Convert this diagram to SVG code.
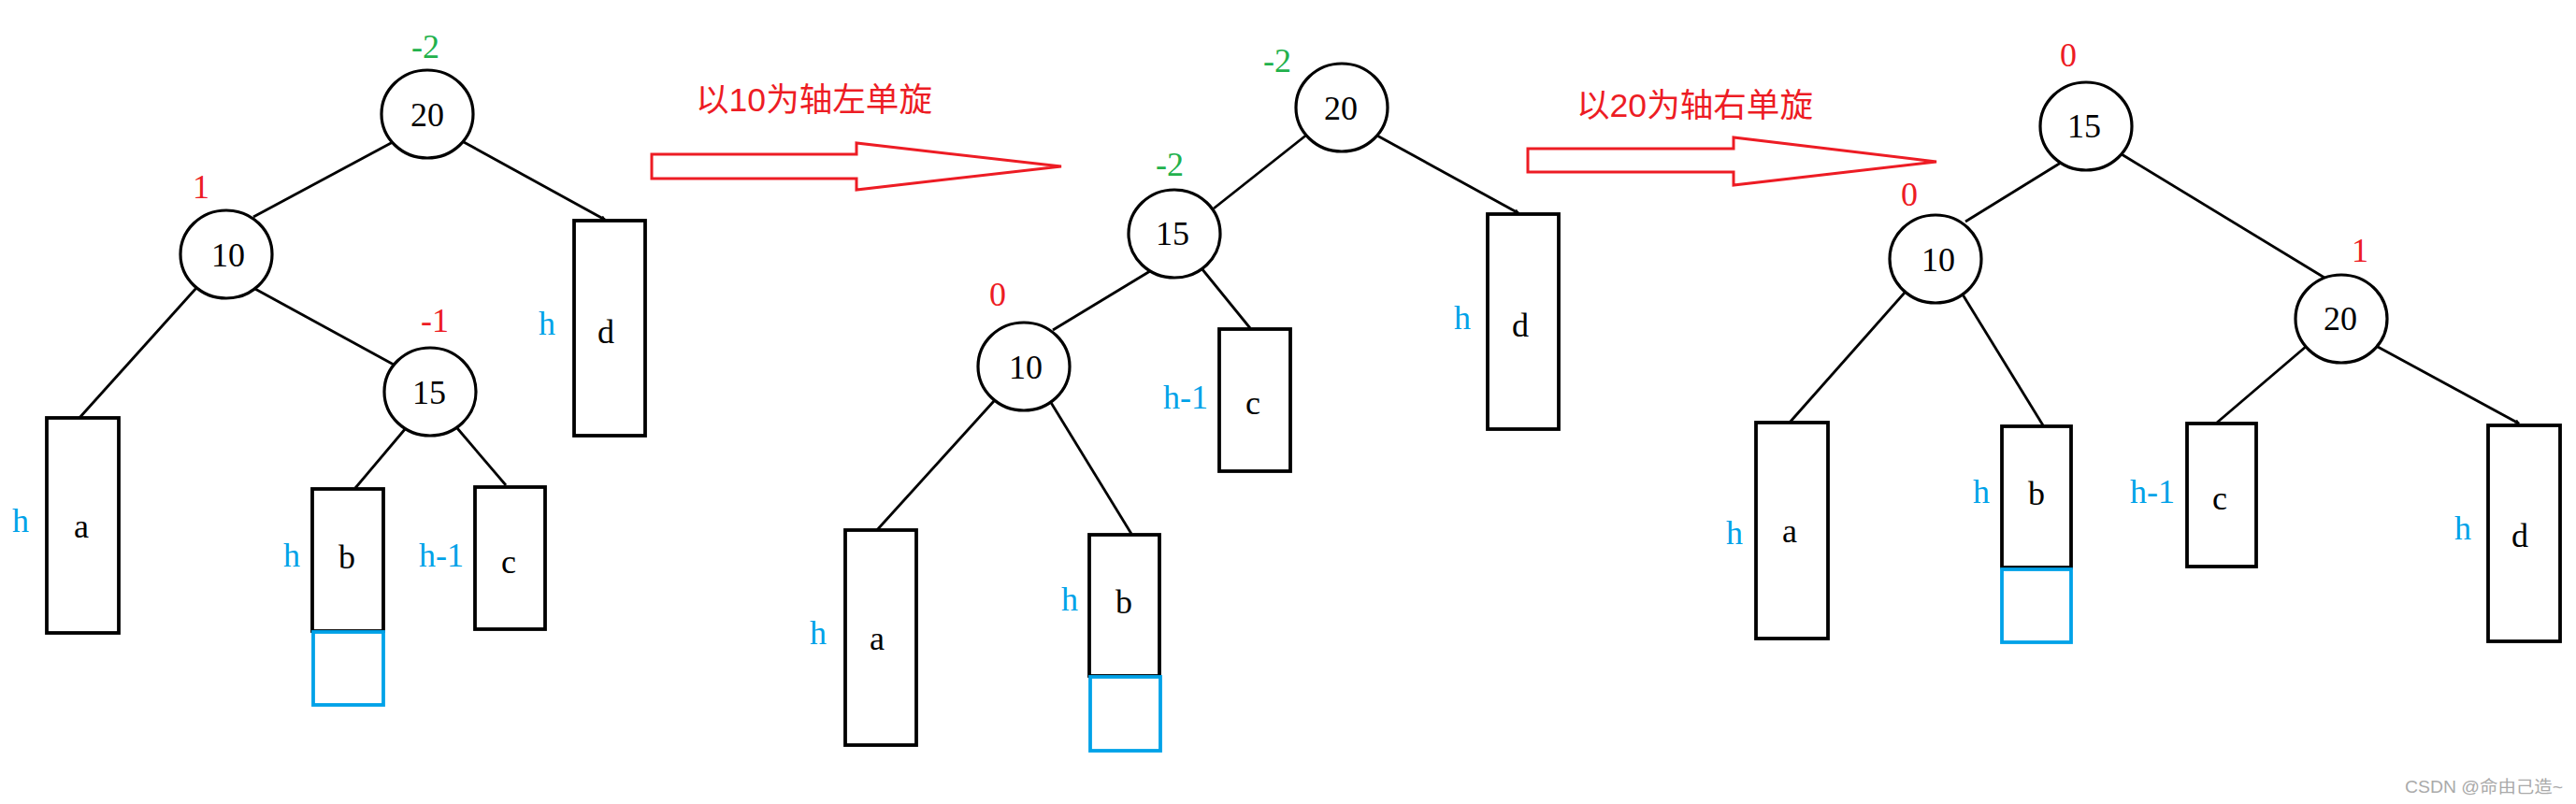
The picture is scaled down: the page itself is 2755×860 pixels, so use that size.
<svg xmlns="http://www.w3.org/2000/svg" width="2755" height="860" viewBox="0 0 2755 860">
<defs>
<marker id="tip" viewBox="0 0 10 10" refX="9" refY="5" markerWidth="5" markerHeight="5" orient="auto" markerUnits="userSpaceOnUse">
<path d="M0,0 L10,5 L0,10" fill="none" stroke="#000" stroke-width="2"/>
</marker>
<style>
.node ellipse{fill:#fff;stroke:#000;stroke-width:3.2}
.box{fill:#fff;stroke:#000;stroke-width:3.8}
.ext{fill:none;stroke:#00a2e8;stroke-width:3.8}
.t{font-family:"Liberation Serif","DejaVu Serif",serif;font-size:36px;fill:#000;text-anchor:middle}
.h{font-family:"Liberation Serif","DejaVu Serif",serif;font-size:36px;fill:#00a2e8;text-anchor:middle}
.r{font-family:"Liberation Serif","DejaVu Serif",serif;font-size:36px;fill:#ed1c24;text-anchor:middle}
.g{font-family:"Liberation Serif","DejaVu Serif",serif;font-size:36px;fill:#22b14c;text-anchor:middle}
.cap{font-family:"Liberation Sans","Noto Sans CJK SC",sans-serif;font-size:35px;fill:#ed1c24}
.arr{fill:#fff;stroke:#ed1c24;stroke-width:3}
#edges line{stroke:#000;stroke-width:2.8}
</style>
</defs>
<rect width="2755" height="860" fill="#fff"/>

<g id="edges">
<line x1="420" y1="152" x2="271" y2="232"/>
<line x1="496" y1="152" x2="647" y2="235" marker-end="url(#tip)"/>
<line x1="210" y1="308" x2="84" y2="448"/>
<line x1="271" y1="308" x2="421" y2="390"/>
<line x1="434" y1="458" x2="380" y2="522"/>
<line x1="489" y1="458" x2="541" y2="519"/>

<line x1="1399" y1="143" x2="1298" y2="223"/>
<line x1="1471" y1="144" x2="1624" y2="228" marker-end="url(#tip)"/>
<line x1="1230" y1="290" x2="1126" y2="353"/>
<line x1="1285" y1="287" x2="1337" y2="351"/>
<line x1="1063" y1="429" x2="937" y2="568"/>
<line x1="1123" y1="429" x2="1210" y2="571"/>

<line x1="2204" y1="174" x2="2102" y2="237"/>
<line x1="2269" y1="165" x2="2486" y2="297"/>
<line x1="2037" y1="313" x2="1913" y2="453"/>
<line x1="2099" y1="315" x2="2185" y2="455"/>
<line x1="2467" y1="370" x2="2371" y2="452"/>
<line x1="2543" y1="371" x2="2694" y2="453" marker-end="url(#tip)"/>
</g>

<!-- Tree 1 -->
<g id="t1-n20" class="node"><ellipse cx="457" cy="122" rx="49" ry="47"/><text class="t" x="457" y="135">20</text><text class="g" x="455" y="62">-2</text></g>
<g id="t1-n10" class="node"><ellipse cx="242" cy="272" rx="49" ry="47"/><text class="t" x="244" y="285">10</text><text class="r" x="215" y="212">1</text></g>
<g id="t1-n15" class="node"><ellipse cx="460" cy="419" rx="49" ry="47"/><text class="t" x="459" y="432">15</text><text class="r" x="465" y="355">-1</text></g>
<g id="t1-a"><rect class="box" x="50" y="447" width="77" height="230"/><text class="t" x="87" y="575">a</text><text class="h" x="22" y="569">h</text></g>
<g id="t1-b"><rect class="box" x="334" y="523" width="76" height="152"/><rect class="ext" x="335" y="676" width="75" height="78"/><text class="t" x="371" y="608">b</text><text class="h" x="312" y="606">h</text></g>
<g id="t1-c"><rect class="box" x="508" y="521" width="75" height="152"/><text class="t" x="544" y="613">c</text><text class="h" x="472" y="606">h-1</text></g>
<g id="t1-d"><rect class="box" x="614" y="236" width="76" height="230"/><text class="t" x="648" y="367">d</text><text class="h" x="585" y="358">h</text></g>

<!-- Arrow 1 -->
<g id="arrow1"><polygon class="arr" points="697,165 916,165 916,153 1135,178 916,203 916,191 697,191"/><text class="cap" x="744" y="119" textLength="253" lengthAdjust="spacingAndGlyphs">以10为轴左单旋</text></g>

<!-- Tree 2 -->
<g id="t2-n20" class="node"><ellipse cx="1435" cy="115" rx="49" ry="47"/><text class="t" x="1434" y="128">20</text><text class="g" x="1366" y="77">-2</text></g>
<g id="t2-n15" class="node"><ellipse cx="1256" cy="250" rx="49" ry="47"/><text class="t" x="1254" y="262">15</text><text class="g" x="1251" y="188">-2</text></g>
<g id="t2-n10" class="node"><ellipse cx="1095" cy="392" rx="49" ry="47"/><text class="t" x="1097" y="405">10</text><text class="r" x="1067" y="327">0</text></g>
<g id="t2-a"><rect class="box" x="904" y="567" width="76" height="230"/><text class="t" x="938" y="695">a</text><text class="h" x="875" y="689">h</text></g>
<g id="t2-b"><rect class="box" x="1165" y="572" width="75" height="151"/><rect class="ext" x="1166" y="724" width="75" height="79"/><text class="t" x="1202" y="656">b</text><text class="h" x="1144" y="653">h</text></g>
<g id="t2-c"><rect class="box" x="1304" y="352" width="76" height="152"/><text class="t" x="1340" y="443">c</text><text class="h" x="1268" y="437">h-1</text></g>
<g id="t2-d"><rect class="box" x="1591" y="229" width="76" height="230"/><text class="t" x="1626" y="360">d</text><text class="h" x="1564" y="352">h</text></g>

<!-- Arrow 2 -->
<g id="arrow2"><polygon class="arr" points="1634,159 1854,159 1854,147 2071,173 1854,198 1854,184 1634,184"/><text class="cap" x="1686" y="125" textLength="253" lengthAdjust="spacingAndGlyphs">以20为轴右单旋</text></g>

<!-- Tree 3 -->
<g id="t3-n15" class="node"><ellipse cx="2231" cy="135" rx="49" ry="47"/><text class="t" x="2229" y="147">15</text><text class="r" x="2212" y="71">0</text></g>
<g id="t3-n10" class="node"><ellipse cx="2070" cy="277" rx="49" ry="47"/><text class="t" x="2073" y="290">10</text><text class="r" x="2042" y="220">0</text></g>
<g id="t3-n20" class="node"><ellipse cx="2504" cy="341" rx="49" ry="47"/><text class="t" x="2503" y="353">20</text><text class="r" x="2524" y="280">1</text></g>
<g id="t3-a"><rect class="box" x="1878" y="452" width="77" height="231"/><text class="t" x="1914" y="580">a</text><text class="h" x="1855" y="582">h</text></g>
<g id="t3-b"><rect class="box" x="2141" y="456" width="74" height="151"/><rect class="ext" x="2141" y="609" width="74" height="78"/><text class="t" x="2178" y="540">b</text><text class="h" x="2119" y="538">h</text></g>
<g id="t3-c"><rect class="box" x="2339" y="453" width="74" height="153"/><text class="t" x="2374" y="545">c</text><text class="h" x="2302" y="538">h-1</text></g>
<g id="t3-d"><rect class="box" x="2661" y="455" width="77" height="231"/><text class="t" x="2695" y="585">d</text><text class="h" x="2634" y="577">h</text></g>

<text x="2572" y="848" font-family="'Liberation Sans','Noto Sans CJK SC',sans-serif" font-size="18" fill="#aaaaaa" textLength="169" lengthAdjust="spacingAndGlyphs">CSDN @命由己造~</text>
</svg>
